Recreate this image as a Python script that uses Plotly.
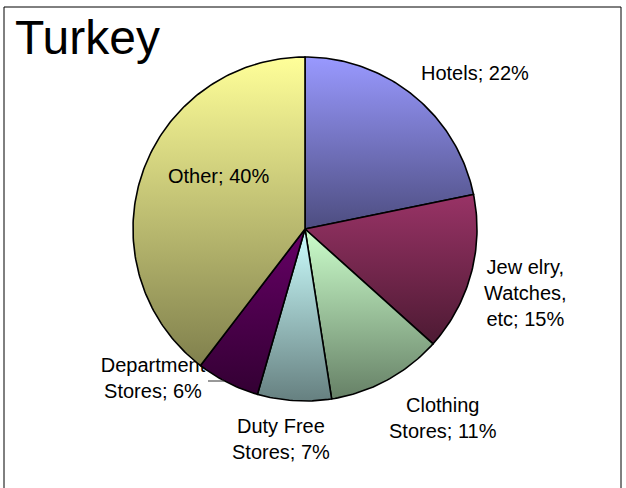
import numpy as np
import plotly.graph_objects as go

# Share of spending by category
categories = ["Hotels", "Jewelry, Watches, etc", "Clothing Stores",
              "Duty Free Stores", "Department Stores", "Other"]
values = [22, 15, 11, 7, 6, 40]
label_lines = [["Hotels; 22%"],
               ["Jew elry,", "Watches,", "etc; 15%"],
               ["Clothing", "Stores; 11%"],
               ["Duty Free", "Stores; 7%"],
               ["Department", "Stores; 6%"],
               ["Other; 40%"]]

# Per-slice vertical gradients (top colour, bottom colour)
top_colors = ["#9999FF", "#993366", "#CCFFCC", "#CCFFFF", "#660066", "#FFFF99"]
bottom_colors = ["#4D4D80", "#4D1A33", "#668066", "#668080", "#330033", "#80804D"]

W, H = 626, 488
CX, CY, R = 305, 229, 172          # pie centre / radius in page pixels
LABEL_XY = [(475, 73), (525, 293), (443, 418), (281, 439), (153, 380), (218, 176)]
BEHIND_PIE = {4}                    # labels the pie is allowed to overlap
FONT = "Liberation Sans, Arial, sans-serif"

fig = go.Figure()

# Labels that sit behind the pie are drawn first as text traces
for i in sorted(BEHIND_PIE):
    lx, ly = LABEL_XY[i]
    fig.add_trace(go.Scatter(
        x=[lx], y=[H - ly], mode="text", text=["<br>".join(label_lines[i])],
        textposition="middle center",
        textfont=dict(family=FONT, size=20, color="black"),
        hoverinfo="skip", showlegend=False,
    ))

total = float(sum(values))
start = 0.0
for i, v in enumerate(values):
    a0 = start / total * 2 * np.pi
    a1 = (start + v) / total * 2 * np.pi
    start += v
    n = max(8, int(np.degrees(a1 - a0)))
    th = np.linspace(a0, a1, n)
    xs = np.concatenate([[CX], CX + R * np.sin(th), [CX]])
    ys = np.concatenate([[CY], CY - R * np.cos(th), [CY]])
    yd = H - ys
    fig.add_trace(go.Scatter(
        x=xs, y=yd, mode="lines", fill="toself",
        line=dict(color="black", width=1.6),
        fillgradient=dict(
            type="vertical",
            start=float(yd.min()), stop=float(yd.max()),
            colorscale=[[0, bottom_colors[i]], [1, top_colors[i]]],
        ),
        hoverinfo="text", text=f"{categories[i]}: {v}%",
        showlegend=False,
    ))

# Remaining category labels
for i, ((lx, ly), lines) in enumerate(zip(LABEL_XY, label_lines)):
    if i in BEHIND_PIE:
        continue
    fig.add_annotation(
        x=lx, y=H - ly, xref="x", yref="y", text="<br>".join(lines),
        showarrow=False, xanchor="center", yanchor="middle", align="center",
        font=dict(family=FONT, size=20, color="black"),
    )

# Leader line for the department-store label
fig.add_shape(type="line", x0=208, y0=H - 381, x1=224, y1=H - 381,
              xref="x", yref="y", line=dict(color="#333333", width=1))

# Title
fig.add_annotation(
    x=13, y=H - 37, xref="x", yref="y", text="Turkey", showarrow=False,
    xanchor="left", yanchor="middle",
    font=dict(family=FONT, size=48, color="black"),
)

# Chart frame
fig.add_shape(type="rect", x0=4, y0=-10, x1=621, y1=H - 7, xref="x", yref="y",
              line=dict(color="black", width=1), fillcolor="rgba(0,0,0,0)")

fig.update_layout(
    width=W, height=H, autosize=False,
    margin=dict(l=0, r=0, t=0, b=0),
    paper_bgcolor="white", plot_bgcolor="white",
    xaxis=dict(range=[0, W], visible=False, fixedrange=True),
    yaxis=dict(range=[0, H], visible=False, fixedrange=True),
)

fig.write_html("out.html")
